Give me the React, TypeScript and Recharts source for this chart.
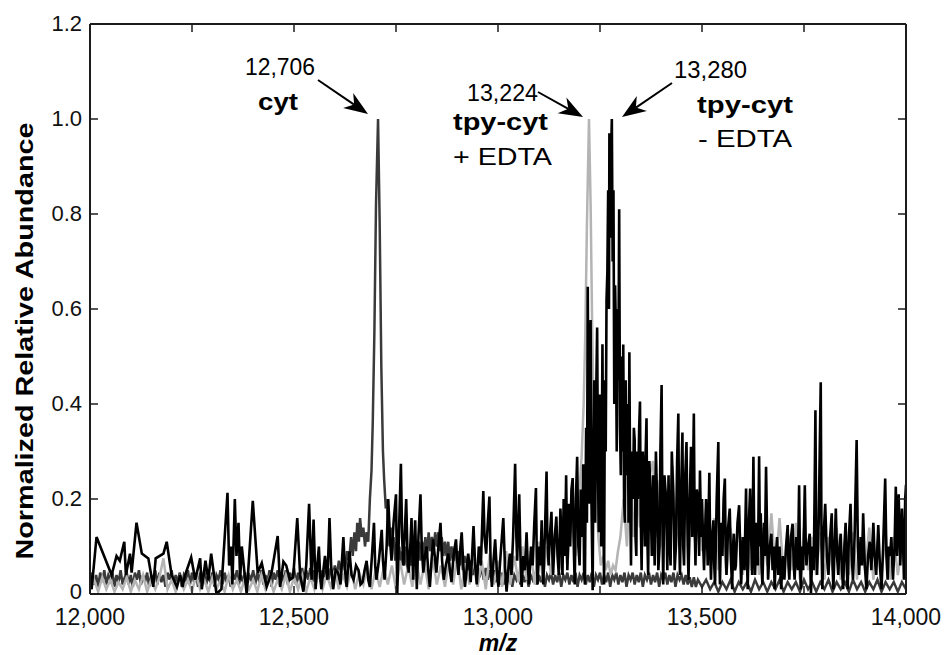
import React from "react";
import { LineChart, Line, XAxis, YAxis } from "recharts";

type Pt = [number, number];

// cyt (dark grey): baseline band, peak at 12,706
const cytLow: Pt[] = [
  [12000, 0.03], [12005, 0.045], [12010, 0.02], [12015, 0.04], [12020, 0.015], [12025, 0.045],
  [12030, 0.025], [12035, 0.05], [12040, 0.02], [12045, 0.04], [12050, 0.03], [12055, 0.045],
  [12060, 0.015], [12065, 0.04], [12070, 0.025], [12075, 0.05], [12080, 0.02], [12085, 0.035],
  [12090, 0.045], [12095, 0.02], [12100, 0.04], [12105, 0.015], [12110, 0.045], [12115, 0.03],
  [12120, 0.05], [12125, 0.02], [12130, 0.04], [12135, 0.025], [12140, 0.045], [12145, 0.015],
  [12150, 0.04], [12155, 0.03], [12160, 0.05], [12165, 0.02], [12170, 0.045], [12175, 0.025],
  [12180, 0.04], [12185, 0.015], [12190, 0.045], [12195, 0.03], [12200, 0.05], [12205, 0.02],
  [12210, 0.04], [12215, 0.025], [12220, 0.045], [12225, 0.015], [12230, 0.04], [12235, 0.03],
  [12240, 0.05], [12245, 0.02], [12250, 0.045], [12255, 0.025], [12260, 0.04], [12265, 0.015],
  [12270, 0.045], [12275, 0.03], [12280, 0.05], [12285, 0.02], [12290, 0.04], [12295, 0.025],
  [12300, 0.045], [12305, 0.015], [12310, 0.04], [12315, 0.03], [12320, 0.05], [12325, 0.02],
  [12330, 0.045], [12335, 0.025], [12340, 0.04], [12345, 0.015], [12350, 0.045], [12355, 0.03],
  [12360, 0.05], [12365, 0.02], [12370, 0.04], [12375, 0.025], [12380, 0.045], [12385, 0.015],
  [12390, 0.04], [12395, 0.03], [12400, 0.05], [12405, 0.02], [12410, 0.045], [12415, 0.025],
  [12420, 0.05], [12425, 0.02], [12430, 0.04], [12435, 0.025], [12440, 0.05], [12445, 0.015],
  [12450, 0.045], [12455, 0.03], [12460, 0.05], [12465, 0.02], [12470, 0.045], [12475, 0.025],
  [12480, 0.05], [12485, 0.02], [12490, 0.045], [12495, 0.03], [12500, 0.055], [12505, 0.02],
  [12510, 0.045], [12515, 0.025], [12520, 0.055], [12525, 0.02], [12530, 0.05], [12535, 0.03],
  [12540, 0.055], [12545, 0.025], [12550, 0.05], [12555, 0.03], [12560, 0.06], [12565, 0.025],
  [12570, 0.05], [12575, 0.035], [12580, 0.065], [12585, 0.03], [12590, 0.055], [12595, 0.035],
];
const cytPeak: Pt[] = [
  [12600, 0.06], [12605, 0.04], [12610, 0.07], [12615, 0.045], [12620, 0.08], [12625, 0.05],
  [12630, 0.09], [12635, 0.07], [12640, 0.12], [12644, 0.08], [12648, 0.13], [12652, 0.09],
  [12655, 0.15], [12659, 0.11], [12662, 0.16], [12666, 0.12], [12670, 0.14], [12674, 0.1],
  [12678, 0.13], [12682, 0.11], [12686, 0.2], [12690, 0.26], [12693, 0.36], [12697, 0.55],
  [12701, 0.82], [12706, 1.0], [12710, 0.78], [12714, 0.48], [12718, 0.3], [12721, 0.24],
  [12725, 0.18], [12728, 0.2], [12731, 0.13], [12734, 0.1], [12737, 0.14], [12740, 0.1],
  [12744, 0.12], [12748, 0.07], [12752, 0.11], [12755, 0.08], [12758, 0.1], [12762, 0.06],
  [12766, 0.09], [12770, 0.06], [12774, 0.1], [12778, 0.05], [12782, 0.09], [12786, 0.06],
  [12790, 0.09], [12794, 0.06], [12798, 0.1], [12802, 0.07], [12806, 0.11], [12810, 0.07],
  [12814, 0.11], [12818, 0.08], [12822, 0.12], [12826, 0.08], [12830, 0.13], [12834, 0.09],
  [12838, 0.12], [12842, 0.09], [12846, 0.13], [12850, 0.1], [12854, 0.13], [12858, 0.09],
  [12862, 0.12], [12866, 0.08], [12870, 0.11], [12874, 0.08], [12878, 0.11], [12882, 0.07],
  [12886, 0.1], [12890, 0.07], [12894, 0.1], [12898, 0.06], [12902, 0.09], [12906, 0.06],
  [12910, 0.09], [12914, 0.05], [12918, 0.08], [12922, 0.05], [12926, 0.08], [12930, 0.05],
  [12934, 0.07], [12938, 0.04], [12942, 0.07], [12946, 0.04], [12950, 0.06], [12955, 0.035],
  [12960, 0.06], [12965, 0.03], [12970, 0.055], [12975, 0.03], [12980, 0.05], [12985, 0.025],
  [12990, 0.05], [12995, 0.025], [13000, 0.045], [13005, 0.02],
];
const cytHigh: Pt[] = [
  [13010, 0.045], [13015, 0.02], [13020, 0.04], [13025, 0.025], [13030, 0.045], [13035, 0.015],
  [13040, 0.04], [13045, 0.03], [13050, 0.045], [13055, 0.02], [13060, 0.04], [13065, 0.025],
  [13070, 0.045], [13075, 0.015], [13080, 0.04], [13085, 0.03], [13090, 0.045], [13095, 0.02],
  [13100, 0.04], [13105, 0.025], [13110, 0.045], [13115, 0.015], [13120, 0.04], [13125, 0.03],
  [13130, 0.045], [13135, 0.02], [13140, 0.04], [13145, 0.025], [13150, 0.045], [13155, 0.015],
  [13160, 0.04], [13165, 0.03], [13170, 0.045], [13175, 0.02], [13180, 0.04], [13185, 0.025],
  [13190, 0.045], [13195, 0.015], [13200, 0.04], [13205, 0.03], [13210, 0.045], [13215, 0.02],
  [13220, 0.04], [13225, 0.025], [13230, 0.045], [13235, 0.015], [13240, 0.04], [13245, 0.03],
  [13250, 0.045], [13255, 0.02], [13260, 0.04], [13265, 0.025], [13270, 0.045], [13275, 0.015],
  [13280, 0.04], [13285, 0.03], [13290, 0.045], [13295, 0.02], [13300, 0.04], [13305, 0.025],
  [13310, 0.045], [13315, 0.015], [13320, 0.04], [13325, 0.03], [13330, 0.045], [13335, 0.02],
  [13340, 0.04], [13345, 0.025], [13350, 0.045], [13355, 0.015], [13360, 0.04], [13365, 0.03],
  [13370, 0.045], [13375, 0.02], [13380, 0.04], [13385, 0.025], [13390, 0.045], [13395, 0.015],
  [13400, 0.04], [13405, 0.03], [13410, 0.045], [13415, 0.02], [13420, 0.04], [13425, 0.025],
  [13430, 0.045], [13435, 0.015], [13440, 0.04], [13445, 0.03], [13450, 0.04], [13455, 0.02],
  [13460, 0.04], [13465, 0.02], [13470, 0.035], [13475, 0.015], [13480, 0.035], [13485, 0.015],
  [13490, 0.03], [13500, 0.015], [13510, 0.03], [13520, 0.01], [13530, 0.025], [13540, 0.005],
  [13550, 0.025], [13560, 0.01], [13570, 0.03], [13580, 0.005], [13590, 0.025], [13600, 0.01],
  [13610, 0.025], [13620, 0.005], [13630, 0.03], [13640, 0.01], [13650, 0.025], [13660, 0.005],
  [13670, 0.025], [13680, 0.01], [13690, 0.03], [13700, 0.005], [13710, 0.025], [13720, 0.01],
  [13730, 0.025], [13740, 0.005], [13750, 0.03], [13760, 0.01], [13770, 0.025], [13780, 0.005],
  [13790, 0.025], [13800, 0.01], [13810, 0.03], [13820, 0.005], [13830, 0.025], [13840, 0.01],
  [13850, 0.025], [13860, 0.005], [13870, 0.03], [13880, 0.01], [13890, 0.025], [13900, 0.005],
  [13910, 0.025], [13920, 0.01], [13930, 0.03], [13940, 0.005], [13950, 0.025], [13960, 0.01],
  [13970, 0.025], [13980, 0.005], [13990, 0.025], [14000, 0.01],
];

// tpy-cyt + EDTA (light grey): peak at 13,224
const edtaLow: Pt[] = [
  [12000, 0.01], [12010, 0.03], [12020, 0.005], [12030, 0.035], [12040, 0.01], [12050, 0.03],
  [12060, 0.005], [12070, 0.025], [12080, 0.01], [12090, 0.035], [12100, 0.005], [12110, 0.03],
  [12120, 0.01], [12130, 0.04], [12140, 0.005], [12150, 0.03], [12160, 0.01], [12170, 0.035],
  [12180, 0.075], [12190, 0.01], [12200, 0.03], [12210, 0.005], [12220, 0.035], [12230, 0.01],
  [12240, 0.03], [12250, 0.005], [12260, 0.04], [12270, 0.01], [12280, 0.03], [12290, 0.005],
  [12300, 0.035], [12310, 0.01], [12320, 0.03], [12330, 0.005], [12340, 0.04], [12350, 0.01],
  [12360, 0.03], [12370, 0.005], [12380, 0.035], [12390, 0.01], [12400, 0.03], [12410, 0.005],
  [12420, 0.04], [12430, 0.01], [12440, 0.035], [12450, 0.005], [12460, 0.03], [12470, 0.01],
  [12480, 0.04], [12490, 0.005], [12500, 0.035], [12510, 0.01], [12520, 0.04], [12530, 0.005],
  [12540, 0.035], [12550, 0.01], [12560, 0.045], [12570, 0.01], [12580, 0.04], [12590, 0.015],
  [12600, 0.05], [12610, 0.01], [12620, 0.04], [12630, 0.015], [12640, 0.05], [12650, 0.01],
  [12660, 0.045], [12670, 0.02], [12680, 0.06], [12690, 0.01], [12700, 0.05], [12710, 0.015],
  [12720, 0.055], [12730, 0.02], [12740, 0.06], [12750, 0.01], [12760, 0.07], [12770, 0.02],
  [12780, 0.06], [12790, 0.015], [12800, 0.07], [12810, 0.02], [12820, 0.065], [12830, 0.01],
  [12840, 0.075], [12850, 0.02], [12860, 0.06], [12870, 0.015], [12880, 0.07], [12890, 0.02],
  [12900, 0.08], [12910, 0.01], [12920, 0.065], [12930, 0.02], [12940, 0.075], [12950, 0.015],
  [12960, 0.07], [12970, 0.01], [12980, 0.085], [12990, 0.02], [13000, 0.07], [13010, 0.015],
  [13020, 0.09], [13030, 0.02], [13040, 0.08], [13050, 0.025], [13060, 0.1], [13070, 0.03],
  [13080, 0.09], [13090, 0.02], [13100, 0.11], [13110, 0.03], [13120, 0.1], [13130, 0.04],
  [13140, 0.13], [13150, 0.05], [13160, 0.14], [13170, 0.06], [13180, 0.16], [13190, 0.08],
];
const edtaPeak: Pt[] = [
  [13198, 0.2], [13205, 0.29], [13210, 0.4], [13214, 0.55], [13218, 0.78], [13223, 1.0],
  [13227, 0.82], [13231, 0.55], [13235, 0.35], [13240, 0.22], [13246, 0.12], [13252, 0.06],
  [13258, 0.08], [13264, 0.05], [13270, 0.07], [13276, 0.04], [13282, 0.06], [13288, 0.05],
  [13294, 0.09], [13300, 0.12], [13308, 0.2], [13316, 0.1], [13324, 0.24], [13332, 0.12],
  [13340, 0.26], [13348, 0.14], [13356, 0.22], [13364, 0.1], [13372, 0.25], [13380, 0.28],
  [13388, 0.12], [13396, 0.24], [13404, 0.1], [13412, 0.22], [13420, 0.15], [13428, 0.27],
  [13436, 0.1], [13444, 0.2], [13452, 0.12], [13460, 0.23], [13468, 0.08], [13476, 0.2],
  [13484, 0.1], [13492, 0.22],
];
const edtaHigh: Pt[] = [
  [13500, 0.09], [13510, 0.18], [13520, 0.06], [13530, 0.16], [13540, 0.05], [13550, 0.15],
  [13560, 0.04], [13570, 0.14], [13580, 0.05], [13590, 0.16], [13600, 0.04], [13610, 0.13],
  [13620, 0.05], [13630, 0.15], [13640, 0.04], [13650, 0.14], [13660, 0.06], [13670, 0.17],
  [13680, 0.05], [13690, 0.16], [13700, 0.04], [13710, 0.13], [13720, 0.05], [13730, 0.15],
  [13740, 0.03], [13750, 0.14], [13760, 0.05], [13770, 0.12], [13780, 0.04], [13790, 0.13],
  [13800, 0.03], [13810, 0.12], [13820, 0.05], [13830, 0.14], [13840, 0.03], [13850, 0.11],
  [13860, 0.04], [13870, 0.13], [13880, 0.03], [13890, 0.12], [13900, 0.05], [13910, 0.14],
  [13920, 0.03], [13930, 0.11], [13940, 0.04], [13950, 0.13], [13960, 0.03], [13970, 0.12],
  [13980, 0.04], [13990, 0.1], [14000, 0.03],
];

// tpy-cyt - EDTA (black): noisy trace, peak at 13,280
const freeLow: Pt[] = [
  [12000, 0.04], [12004, 0.01], [12016, 0.12], [12053, 0.04], [12065, 0.08], [12073, 0.07],
  [12084, 0.11], [12088, 0.04], [12098, 0.085], [12102, 0.045], [12114, 0.15], [12127, 0.085],
  [12143, 0.075], [12155, 0.015], [12161, 0.075], [12180, 0.085], [12188, 0.11], [12200, 0.04],
  [12213, 0.015], [12221, 0.04], [12227, 0.015], [12233, 0.04], [12248, 0.077], [12258, 0.03],
  [12270, 0.075], [12274, 0.01], [12283, 0.07], [12290, 0.03], [12297, 0.085], [12310, 0],
  [12322, 0.01], [12337, 0.213], [12341, 0.06], [12346, 0.1], [12349, 0.02], [12355, 0.2],
  [12359, 0.08], [12364, 0.15], [12368, 0.03], [12372, 0.1], [12384, 0], [12399, 0.196],
  [12411, 0.045], [12421, 0.065], [12433, 0.015], [12445, 0.045], [12460, 0.122], [12466, 0.015],
  [12474, 0.068], [12481, 0.06], [12490, 0.03], [12498, 0.035], [12508, 0.16], [12515, 0.04],
  [12523, 0.005], [12530, 0.06], [12537, 0.19], [12543, 0.03], [12548, 0.157],
];
const freeMid: Pt[] = [
  [12553, 0.01], [12557, 0.06], [12561, 0.1], [12564, 0.04], [12567, 0.01], [12572, 0.05],
  [12576, 0.08], [12582, 0.03], [12587, 0.16], [12591, 0.06], [12596, 0.01], [12602, 0.05],
  [12608, 0.045], [12614, 0.02], [12621, 0.12], [12625, 0.05], [12629, 0.015], [12633, 0.06],
  [12636, 0.09], [12641, 0.04], [12646, 0.03], [12652, 0.06], [12658, 0.05], [12663, 0.02],
  [12668, 0.025], [12673, 0.05], [12678, 0.07], [12682, 0.03], [12686, 0.015], [12691, 0.08],
  [12696, 0.15], [12699, 0.06], [12702, 0.03], [12708, 0.07], [12715, 0.135], [12718, 0.07],
  [12722, 0.03], [12727, 0.1], [12731, 0.2], [12735, 0.12], [12739, 0.07], [12744, 0.15],
  [12750, 0.21], [12753, 0], [12757, 0.12], [12762, 0.274], [12765, 0.12], [12768, 0.06],
  [12772, 0.14], [12775, 0.2], [12778, 0.09], [12781, 0.045], [12785, 0.1], [12788, 0.16],
  [12792, 0.03], [12797, 0.155], [12801, 0.01], [12805, 0.12], [12810, 0.21], [12813, 0.1],
  [12817, 0.045], [12821, 0.08], [12825, 0.1], [12829, 0.05], [12833, 0.015], [12837, 0.07],
  [12841, 0.115], [12845, 0.08], [12849, 0.045], [12854, 0.1], [12859, 0.15], [12863, 0.07],
  [12867, 0.03], [12872, 0.06], [12878, 0.085], [12882, 0.05], [12886, 0.025], [12891, 0.08],
  [12897, 0.115], [12900, 0.07], [12903, 0.04], [12907, 0.09], [12911, 0.13], [12915, 0.06],
  [12919, 0.015], [12923, 0.05], [12927, 0.085], [12930, 0.06], [12933, 0.025], [12937, 0.09],
  [12940, 0.143], [12944, 0.06], [12948, 0.02], [12953, 0.1], [12958, 0.06], [12964, 0.217],
  [12967, 0.12], [12971, 0.085], [12975, 0.15], [12979, 0.205], [12982, 0.06], [12985, 0.015],
  [12989, 0.07], [12993, 0.115], [12997, 0.05], [13001, 0.015], [13007, 0.09], [13013, 0.16],
  [13017, 0.06], [13021, 0.005], [13025, 0.05], [13029, 0.085], [13033, 0.04], [13037, 0.12],
  [13042, 0.274], [13045, 0.12], [13047, 0.07], [13050, 0.15], [13052, 0.21], [13055, 0.08],
  [13058, 0.015], [13062, 0.08], [13066, 0.05], [13070, 0.13], [13073, 0.06], [13076, 0.02],
  [13081, 0.1], [13085, 0.06], [13089, 0.15], [13093, 0.223], [13095, 0.08], [13097, 0.02],
  [13101, 0.1], [13104, 0.06], [13107, 0.155], [13109, 0.07], [13111, 0.02], [13115, 0.13],
  [13119, 0.258], [13121, 0.12], [13124, 0.06], [13127, 0.12], [13131, 0.173], [13133, 0.09],
  [13135, 0.04], [13139, 0.12], [13143, 0.163], [13146, 0.08], [13149, 0.04],
];
const freePeak: Pt[] = [
  [13153, 0.18], [13155, 0.13], [13158, 0.04], [13161, 0.2], [13164, 0.08], [13167, 0.25],
  [13170, 0.05], [13174, 0.19], [13177, 0.1], [13180, 0.22], [13183, 0.244], [13186, 0.09],
  [13188, 0.02], [13191, 0.2], [13194, 0.289], [13197, 0.1], [13200, 0.06], [13203, 0.22],
  [13206, 0.12], [13209, 0.273], [13211, 0.05], [13213, 0.02], [13216, 0.35], [13218, 0.15],
  [13220, 0.647], [13222, 0.3], [13223, 0.19], [13225, 0.45], [13227, 0.577], [13229, 0.2],
  [13232, 0.008], [13234, 0.3], [13236, 0.45], [13238, 0.15], [13240, 0.38], [13243, 0.561],
  [13245, 0.25], [13247, 0.13], [13249, 0.42], [13251, 0.3], [13253, 0.1], [13256, 0.526],
  [13258, 0.2], [13260, 0.02], [13262, 0.45], [13264, 0.3], [13266, 0.62], [13268, 0.676],
  [13270, 0.85], [13272, 0.6], [13273, 0.97], [13275, 0.75], [13277, 0.92], [13279, 1.0],
  [13281, 0.7], [13283, 0.85], [13285, 0.4], [13287, 0.65], [13289, 0.55], [13291, 0.3],
  [13293, 0.6], [13295, 0.45], [13297, 0.81], [13299, 0.35], [13301, 0.25], [13303, 0.5],
  [13305, 0.3], [13307, 0.525], [13309, 0.2], [13311, 0.15], [13313, 0.45], [13315, 0.25],
  [13318, 0.4], [13320, 0.15], [13322, 0.509], [13324, 0.2], [13326, 0.06], [13328, 0.3],
  [13331, 0.2], [13333, 0.35], [13335, 0.324], [13337, 0.12], [13339, 0.08], [13341, 0.3],
  [13343, 0.2], [13346, 0.35], [13348, 0.405], [13350, 0.15], [13352, 0.05], [13355, 0.3],
  [13357, 0.25], [13360, 0.1], [13362, 0.3], [13364, 0.37], [13366, 0.12], [13368, 0.04],
  [13371, 0.28], [13374, 0.2], [13377, 0.08], [13380, 0.25], [13382, 0.15], [13384, 0.06],
  [13387, 0.3], [13390, 0.2], [13393, 0.05], [13396, 0.1], [13398, 0.3], [13401, 0.44],
  [13403, 0.15], [13405, 0.02], [13408, 0.25], [13412, 0.2], [13415, 0.05], [13418, 0.25],
  [13420, 0.12], [13423, 0.06], [13426, 0.3], [13430, 0.2], [13433, 0.05], [13436, 0.1],
  [13439, 0.28], [13442, 0.38], [13444, 0.12], [13446, 0.04], [13449, 0.22], [13452, 0.34],
  [13454, 0.1], [13456, 0.06], [13459, 0.25], [13462, 0.32], [13465, 0.1], [13467, 0.03],
  [13470, 0.2], [13473, 0.31], [13476, 0.12], [13478, 0.25], [13480, 0.38], [13482, 0.15],
  [13484, 0.06], [13487, 0.22], [13490, 0.2], [13493, 0.08], [13495, 0.26], [13498, 0.12],
  [13500, 0.2], [13503, 0.1], [13505, 0.05],
];
const freeHigh: Pt[] = [
  [13510, 0.2], [13514, 0.06], [13518, 0.255], [13520, 0.1], [13522, 0.03], [13525, 0.12],
  [13528, 0.155], [13530, 0.06], [13532, 0.02], [13536, 0.2], [13540, 0.32], [13542, 0.1],
  [13544, 0.02], [13547, 0.15], [13550, 0.08], [13553, 0.2], [13556, 0.243], [13558, 0.1],
  [13560, 0.04], [13564, 0.14], [13568, 0.18], [13571, 0.07], [13574, 0.01], [13576, 0.1],
  [13578, 0.127], [13581, 0.05], [13583, 0.06], [13587, 0.15], [13591, 0.187], [13594, 0.08],
  [13596, 0.02], [13600, 0.12], [13604, 0.05], [13608, 0.222], [13610, 0.08], [13612, 0.01],
  [13615, 0.15], [13618, 0.222], [13621, 0.1], [13623, 0.04], [13626, 0.289], [13628, 0.12],
  [13630, 0.04], [13634, 0.15], [13637, 0.06], [13640, 0.29], [13642, 0.1], [13644, 0.17],
  [13646, 0.06], [13648, 0.02], [13652, 0.15], [13654, 0.08], [13657, 0.268], [13660, 0.1],
  [13662, 0.03], [13666, 0.1], [13670, 0.127], [13673, 0.05], [13676, 0.1], [13678, 0.01],
  [13681, 0.08], [13684, 0.12], [13687, 0.04], [13690, 0.1], [13694, 0.01], [13698, 0.08],
  [13702, 0.03], [13706, 0.1], [13710, 0.145], [13712, 0.06], [13714, 0.03], [13718, 0.12],
  [13722, 0.148], [13725, 0.06], [13727, 0.03], [13731, 0.12], [13735, 0.05], [13738, 0.229],
  [13740, 0.08], [13742, 0.01], [13745, 0.1], [13748, 0.05], [13752, 0.229], [13754, 0.12],
  [13756, 0.06], [13760, 0.1], [13764, 0.127], [13767, 0], [13771, 0.1], [13774, 0.05],
  [13778, 0.387], [13780, 0.1], [13782, 0.04], [13786, 0.15], [13791, 0.446], [13793, 0.1],
  [13795, 0.01], [13798, 0.12], [13802, 0.19], [13806, 0.08], [13810, 0.04], [13814, 0.12],
  [13818, 0.17], [13820, 0.06], [13822, 0.01], [13825, 0.1], [13828, 0.18], [13831, 0.08],
  [13834, 0.04], [13837, 0.1], [13840, 0.127], [13843, 0.05], [13846, 0.01], [13849, 0.1],
  [13852, 0.15], [13855, 0.05], [13857, 0.01], [13860, 0.12], [13864, 0.19], [13867, 0.08],
  [13870, 0.03], [13874, 0.12], [13879, 0.324], [13882, 0.1], [13885, 0.04], [13889, 0.12],
  [13892, 0.06], [13895, 0.17], [13899, 0.06], [13903, 0.01], [13907, 0.08], [13911, 0.11],
  [13915, 0.05], [13920, 0.15], [13923, 0.08], [13927, 0.04], [13932, 0.145], [13936, 0.06],
  [13940, 0.01], [13944, 0.1], [13949, 0.243], [13952, 0.08], [13955, 0.03], [13958, 0.1],
  [13961, 0.08], [13964, 0.12], [13968, 0.03], [13972, 0.1], [13975, 0.226], [13978, 0.08],
  [13982, 0.21], [13986, 0.06], [13990, 0.18], [13993, 0.1], [13995, 0.03], [13998, 0.2],
  [14000, 0.23],
];

const xTicks = [12000, 12250, 12500, 12750, 13000, 13250, 13500, 13750, 14000];
const yTicks = [0, 0.2, 0.4, 0.6, 0.8, 1.0, 1.2];

const toRows = (pts: Pt[]) => pts.map(([mz, ab]) => ({ mz, ab }));
const cytData = toRows([...cytLow, ...cytPeak, ...cytHigh]);
const edtaData = toRows([...edtaLow, ...edtaPeak, ...edtaHigh]);
const freeData = toRows([...freeLow, ...freeMid, ...freePeak, ...freeHigh]);

const INK = "#1c1c1c";
const FONT = "'Liberation Sans', Arial, Helvetica, sans-serif";

const fmtMz = (v: number) => v.toLocaleString("en-US");

function BottomTick(props: any) {
  const { x, y, payload } = props;
  const v = payload.value as number;
  return (
    <g>
      <line x1={x} x2={x} y1={y} y2={y - 8} stroke={INK} strokeWidth={1.5} />
      {v % 500 === 0 && (
        <text x={x} y={y + 31} textAnchor="middle" fontSize={23} fill="#111" fontFamily={FONT}>
          {fmtMz(v)}
        </text>
      )}
    </g>
  );
}

function TopTick(props: any) {
  const { x, y } = props;
  return <line x1={x} x2={x} y1={y} y2={y + 8} stroke={INK} strokeWidth={1.5} />;
}

function LeftTick(props: any) {
  const { x, y, payload } = props;
  const v = payload.value as number;
  return (
    <g>
      <line x1={x} x2={x + 8} y1={y} y2={y} stroke={INK} strokeWidth={1.5} />
      <text x={x - 8} y={y} dy={v === 0 ? "0.24em" : "0.34em"} textAnchor="end" fontSize={22} fill="#111" fontFamily={FONT}>
        {v === 0 ? "0" : v.toFixed(1)}
      </text>
    </g>
  );
}

function RightTick(props: any) {
  const { x, y } = props;
  return <line x1={x} x2={x - 8} y1={y} y2={y} stroke={INK} strokeWidth={1.5} />;
}

// filled barbed arrow from tail to tip
function Arrow({ from, to }: { from: [number, number]; to: [number, number] }) {
  const dx = to[0] - from[0];
  const dy = to[1] - from[1];
  const len = Math.hypot(dx, dy);
  const ux = dx / len;
  const uy = dy / len;
  const nx = -uy;
  const ny = ux;
  const L = 24;
  const W = 9;
  const back = [to[0] - ux * L, to[1] - uy * L];
  const notch = [to[0] - ux * L * 0.7, to[1] - uy * L * 0.7];
  const pts = [
    to,
    [back[0] + nx * W, back[1] + ny * W],
    notch,
    [back[0] - nx * W, back[1] - ny * W],
  ]
    .map((p) => p.join(","))
    .join(" ");
  return (
    <g>
      <line x1={from[0]} y1={from[1]} x2={notch[0]} y2={notch[1]} stroke="#000" strokeWidth={2} />
      <polygon points={pts} fill="#000" />
    </g>
  );
}

function Overlay() {
  const bold = { fontFamily: FONT, fontWeight: 700, fontSize: 24, fill: "#000" } as const;
  const reg = { fontFamily: FONT, fontSize: 24, fill: "#000" } as const;
  return (
    <svg
      width={946}
      height={655}
      style={{ position: "absolute", left: 0, top: 0, pointerEvents: "none" }}
    >
      <text
        x={33}
        y={341}
        transform="rotate(-90 33 341)"
        textAnchor="middle"
        textLength={437}
        lengthAdjust="spacingAndGlyphs"
        {...bold}
        fontSize={23}
      >
        Normalized Relative Abundance
      </text>
      <text x={498} y={651} textAnchor="middle" {...bold} fontSize={23} fontStyle="italic">
        m/z
      </text>

      <text x={245} y={75} {...reg} textLength={70} lengthAdjust="spacingAndGlyphs">12,706</text>
      <text x={258} y={110} {...bold} textLength={40} lengthAdjust="spacingAndGlyphs">cyt</text>
      <Arrow from={[318, 80]} to={[368, 114]} />

      <text x={467} y={101} {...reg} textLength={71} lengthAdjust="spacingAndGlyphs">13,224</text>
      <Arrow from={[538, 92]} to={[583, 117]} />
      <text x={453} y={130} {...bold} textLength={95} lengthAdjust="spacingAndGlyphs">tpy-cyt</text>
      <text x={453} y={165} {...reg} textLength={99} lengthAdjust="spacingAndGlyphs">+ EDTA</text>

      <text x={674} y={78} {...reg} textLength={73} lengthAdjust="spacingAndGlyphs">13,280</text>
      <Arrow from={[672, 83]} to={[622, 117]} />
      <text x={697} y={113} {...bold} textLength={96} lengthAdjust="spacingAndGlyphs">tpy-cyt</text>
      <text x={698} y={147} {...reg} textLength={94} lengthAdjust="spacingAndGlyphs">- EDTA</text>
    </svg>
  );
}

export default function App() {
  return (
    <div style={{ position: "absolute", left: 0, top: 0, width: 946, height: 655, background: "#fff" }}>
      <LineChart width={946} height={655} margin={{ top: 4, right: 0, bottom: 0, left: 0 }}>
        <XAxis
          xAxisId="b"
          dataKey="mz"
          type="number"
          domain={[12000, 14000]}
          ticks={xTicks}
          interval={0}
          allowDataOverflow
          height={61}
          tickSize={0}
          tickMargin={0}
          tickLine={false}
          axisLine={{ stroke: INK, strokeWidth: 2 }}
          tick={<BottomTick />}
        />
        <XAxis
          xAxisId="t"
          orientation="top"
          dataKey="mz"
          type="number"
          domain={[12000, 14000]}
          ticks={xTicks}
          interval={0}
          allowDataOverflow
          height={20}
          tickSize={0}
          tickMargin={0}
          tickLine={false}
          axisLine={{ stroke: INK, strokeWidth: 2 }}
          tick={<TopTick />}
        />
        <YAxis
          yAxisId="l"
          type="number"
          domain={[0, 1.2]}
          ticks={yTicks}
          interval={0}
          allowDataOverflow
          width={90}
          tickSize={0}
          tickMargin={0}
          tickLine={false}
          axisLine={{ stroke: INK, strokeWidth: 2 }}
          tick={<LeftTick />}
        />
        <YAxis
          yAxisId="r"
          orientation="right"
          type="number"
          domain={[0, 1.2]}
          ticks={yTicks}
          interval={0}
          allowDataOverflow
          width={40}
          tickSize={0}
          tickMargin={0}
          tickLine={false}
          axisLine={{ stroke: INK, strokeWidth: 2 }}
          tick={<RightTick />}
        />
        <Line
          xAxisId="b"
          yAxisId="l"
          data={cytData}
          dataKey="ab"
          type="linear"
          stroke="#3a3a3a"
          strokeWidth={2.5}
          dot={false}
          isAnimationActive={false}
        />
        <Line
          xAxisId="b"
          yAxisId="l"
          data={edtaData}
          dataKey="ab"
          type="linear"
          stroke="#b4b4b4"
          strokeWidth={2.5}
          dot={false}
          isAnimationActive={false}
        />
        <Line
          xAxisId="t"
          yAxisId="r"
          data={freeData}
          dataKey="ab"
          type="linear"
          stroke="#000"
          strokeWidth={2.6}
          dot={false}
          isAnimationActive={false}
        />
      </LineChart>
      <Overlay />
    </div>
  );
}
